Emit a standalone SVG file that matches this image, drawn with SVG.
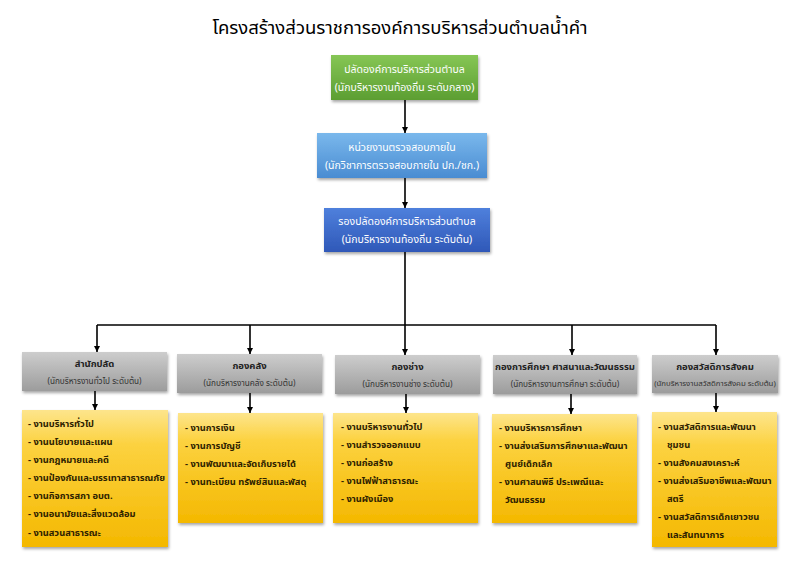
<svg xmlns="http://www.w3.org/2000/svg" width="800" height="566" viewBox="0 0 800 566">
<defs>
<linearGradient id="gGreen" x1="0" y1="0" x2="0" y2="1"><stop offset="0" stop-color="#86c655"/><stop offset="1" stop-color="#5c9e32"/></linearGradient>
<linearGradient id="gBlue1" x1="0" y1="0" x2="0" y2="1"><stop offset="0" stop-color="#7ab8ec"/><stop offset="1" stop-color="#4a8cd2"/></linearGradient>
<linearGradient id="gBlue2" x1="0" y1="0" x2="0" y2="1"><stop offset="0" stop-color="#4f80dc"/><stop offset="1" stop-color="#2f58b8"/></linearGradient>
<linearGradient id="gGray" x1="0" y1="0" x2="0" y2="1"><stop offset="0" stop-color="#cdcdcd"/><stop offset="1" stop-color="#9c9c9c"/></linearGradient>
<linearGradient id="gYel" x1="0" y1="0" x2="0" y2="1"><stop offset="0" stop-color="#fde58c"/><stop offset="0.25" stop-color="#fcd240"/><stop offset="1" stop-color="#f4b800"/></linearGradient>
<filter id="sh" x="-10%" y="-10%" width="125%" height="140%"><feDropShadow dx="1" dy="2" stdDeviation="1.5" flood-color="#000" flood-opacity="0.35"/></filter>
<marker id="ar" viewBox="0 0 10 10" refX="10" refY="5" markerWidth="6" markerHeight="6" markerUnits="userSpaceOnUse" orient="auto"><path d="M0,0 L10,5 L0,10 z" fill="#000"/></marker>
</defs>
<style>
text{font-family:"Noto Sans Thai","Noto Sans","DejaVu Sans",sans-serif}
.title{font-size:18.5px;fill:#000;text-anchor:middle}
.wt{font-size:10.5px;fill:#fff;text-anchor:middle}
.hd{font-size:9.5px;font-weight:bold;fill:#222;text-anchor:middle}
.sub{font-size:8.2px;fill:#333;text-anchor:middle}
.sub2{font-size:7.8px;fill:#333;text-anchor:middle}
.it{font-size:9.3px;font-weight:bold;fill:#2e2200}
.con{stroke:#000;stroke-width:1.6;fill:none}
</style>
<rect width="800" height="566" fill="#fff"/>
<text class="title" x="400" y="34">โครงสร้างส่วนราชการองค์การบริหารส่วนตำบลน้ำคำ</text>

<g id="connectors">
<line class="con" x1="405" y1="100" x2="405" y2="133" marker-end="url(#ar)"/>
<line class="con" x1="405" y1="178" x2="405" y2="208" marker-end="url(#ar)"/>
<line class="con" x1="405" y1="252" x2="405" y2="325"/>
<line class="con" x1="97" y1="325" x2="716" y2="325"/>
<line class="con" x1="97" y1="325" x2="97" y2="352" marker-end="url(#ar)"/>
<line class="con" x1="250" y1="325" x2="250" y2="354" marker-end="url(#ar)"/>
<line class="con" x1="405" y1="325" x2="405" y2="355" marker-end="url(#ar)"/>
<line class="con" x1="572" y1="325" x2="572" y2="355" marker-end="url(#ar)"/>
<line class="con" x1="716" y1="325" x2="716" y2="355" marker-end="url(#ar)"/>
<line class="con" x1="95" y1="391" x2="95" y2="410" marker-end="url(#ar)"/>
<line class="con" x1="250" y1="393" x2="250" y2="413" marker-end="url(#ar)"/>
<line class="con" x1="406" y1="394" x2="406" y2="413" marker-end="url(#ar)"/>
<line class="con" x1="571" y1="394" x2="571" y2="414" marker-end="url(#ar)"/>
<line class="con" x1="716" y1="393" x2="716" y2="412" marker-end="url(#ar)"/>
</g>

<g id="n-palad">
<rect x="331" y="55" width="147" height="45" fill="url(#gGreen)" filter="url(#sh)"/>
<text class="wt" x="404.5" y="73">ปลัดองค์การบริหารส่วนตำบล</text>
<text class="wt" x="404.5" y="91">(นักบริหารงานท้องถิ่น ระดับกลาง)</text>
</g>
<g id="n-audit">
<rect x="317" y="133" width="170" height="45" fill="url(#gBlue1)" filter="url(#sh)"/>
<text class="wt" x="402" y="151">หน่วยงานตรวจสอบภายใน</text>
<text class="wt" x="402" y="169">(นักวิชาการตรวจสอบภายใน ปก./ชก.)</text>
</g>
<g id="n-deputy">
<rect x="324" y="208" width="166" height="44" fill="url(#gBlue2)" filter="url(#sh)"/>
<text class="wt" x="407" y="225">รองปลัดองค์การบริหารส่วนตำบล</text>
<text class="wt" x="407" y="243">(นักบริหารงานท้องถิ่น  ระดับต้น)</text>
</g>

<g id="h1">
<rect x="22" y="352" width="145" height="39" fill="url(#gGray)" filter="url(#sh)"/>
<text class="hd" x="94.5" y="367">สำนักปลัด</text>
<text class="sub" x="94.5" y="384">(นักบริหารงานทั่วไป  ระดับต้น)</text>
</g>
<g id="h2">
<rect x="177" y="354" width="145" height="39" fill="url(#gGray)" filter="url(#sh)"/>
<text class="hd" x="249.5" y="369">กองคลัง</text>
<text class="sub" x="249.5" y="386">(นักบริหารงานคลัง  ระดับต้น)</text>
</g>
<g id="h3">
<rect x="335" y="355" width="145" height="39" fill="url(#gGray)" filter="url(#sh)"/>
<text class="hd" x="407.5" y="370">กองช่าง</text>
<text class="sub" x="407.5" y="387">(นักบริหารงานช่าง  ระดับต้น)</text>
</g>
<g id="h4">
<rect x="493" y="355" width="144" height="39" fill="url(#gGray)" filter="url(#sh)"/>
<text class="hd" x="565" y="370">กองการศึกษา  ศาสนาและวัฒนธรรม</text>
<text class="sub" x="565" y="387">(นักบริหารงานการศึกษา ระดับต้น)</text>
</g>
<g id="h5">
<rect x="652" y="355" width="126" height="38" fill="url(#gGray)" filter="url(#sh)"/>
<text class="hd" x="715" y="370">กองสวัสดิการสังคม</text>
<text class="sub2" x="715" y="386">(นักบริหารงานสวัสดิการสังคม ระดับต้น)</text>
</g>

<g id="b1">
<rect x="22" y="410" width="146" height="137" fill="url(#gYel)" filter="url(#sh)"/>
<text class="it" x="28" y="427">- งานบริหารทั่วไป</text>
<text class="it" x="28" y="445">- งานนโยบายและแผน</text>
<text class="it" x="28" y="463">- งานกฎหมายและคดี</text>
<text class="it" x="28" y="481">- งานป้องกันและบรรเทาสาธารณภัย</text>
<text class="it" x="28" y="499">- งานกิจการสภา อบต.</text>
<text class="it" x="28" y="517">- งานอนามัยและสิ่งแวดล้อม</text>
<text class="it" x="28" y="536">- งานสวนสาธารณะ</text>
</g>
<g id="b2">
<rect x="178" y="413" width="145" height="110" fill="url(#gYel)" filter="url(#sh)"/>
<text class="it" x="185" y="431">- งานการเงิน</text>
<text class="it" x="185" y="449">- งานการบัญชี</text>
<text class="it" x="185" y="467">- งานพัฒนาและจัดเก็บรายได้</text>
<text class="it" x="185" y="485">- งานทะเบียน ทรัพย์สินและพัสดุ</text>
</g>
<g id="b3">
<rect x="333" y="413" width="145" height="110" fill="url(#gYel)" filter="url(#sh)"/>
<text class="it" x="341" y="430">- งานบริหารงานทั่วไป</text>
<text class="it" x="341" y="448">- งานสำรวจออกแบบ</text>
<text class="it" x="341" y="466">- งานก่อสร้าง</text>
<text class="it" x="341" y="484">- งานไฟฟ้าสาธารณะ</text>
<text class="it" x="341" y="502">- งานผังเมือง</text>
</g>
<g id="b4">
<rect x="492" y="414" width="145" height="109" fill="url(#gYel)" filter="url(#sh)"/>
<text class="it" x="499" y="431">- งานบริหารการศึกษา</text>
<text class="it" x="499" y="449">- งานส่งเสริมการศึกษาและพัฒนา</text>
<text class="it" x="505" y="467">ศูนย์เด็กเล็ก</text>
<text class="it" x="499" y="485">- งานศาสนพิธี  ประเพณีและ</text>
<text class="it" x="505" y="503">วัฒนธรรม</text>
</g>
<g id="b5">
<rect x="652" y="412" width="125" height="135" fill="url(#gYel)" filter="url(#sh)"/>
<text class="it" x="658" y="430">- งานสวัสดิการและพัฒนา</text>
<text class="it" x="667" y="448">ชุมชน</text>
<text class="it" x="658" y="466">- งานสังคมสงเคราะห์</text>
<text class="it" x="658" y="484">- งานส่งเสริมอาชีพและพัฒนา</text>
<text class="it" x="667" y="502">สตรี</text>
<text class="it" x="658" y="520">- งานสวัสดิการเด็กเยาวชน</text>
<text class="it" x="667" y="538">และสันทนาการ</text>
</g>
</svg>
